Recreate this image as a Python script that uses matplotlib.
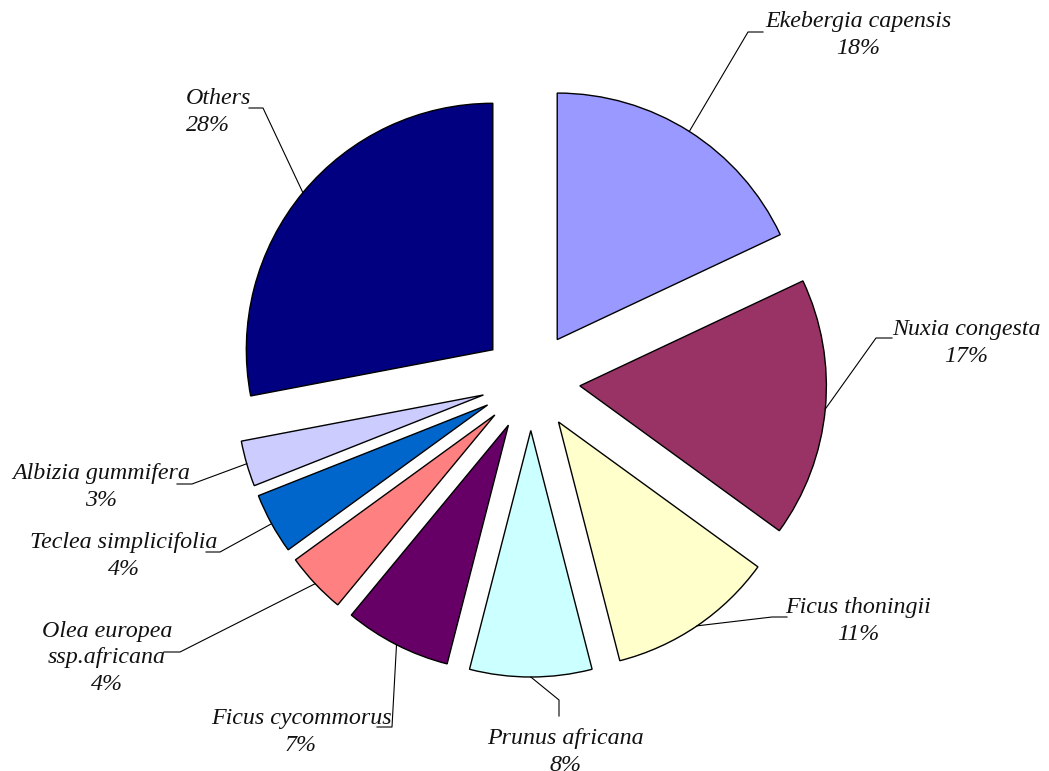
import numpy as np
import matplotlib.pyplot as plt

species = ["Ekebergia capensis", "Nuxia congesta", "Ficus thoningii",
           "Prunus africana", "Ficus cycommorus", "Olea europea\nssp.africana",
           "Teclea simplicifolia", "Albizia gummifera", "Others"]
shares = [18, 17, 11, 8, 7, 4, 4, 3, 28]
colors = ["#9999FF", "#993366", "#FFFFCC", "#CCFFFF", "#660066",
          "#FF8080", "#0066CC", "#CCCCFF", "#000080"]

W, H = 1049, 771
CX, CY, R = 530.8, 381.2, 246.5   # pie centre and radius in pixels


def px(x, y):
    # pixel position (from top-left) -> data units of the pie
    return (x - CX) / R, (CY - y) / R


# label centre, elbow of leader, end of the short horizontal tick, text alignment
label_layout = [
    ((858, 35), (748, 32), (763, 32), "center"),
    ((966, 343), (876, 338), (892, 338), "center"),
    ((858, 621), (772, 617), (787, 617), "center"),
    ((565, 752), (559, 700), (559, 716), "center"),
    ((301, 732), (392, 727), (377, 727), "center"),
    ((107, 658), (180, 652), (164, 652), "center"),
    ((124, 556), (220, 552), (206, 552), "center"),
    ((101, 487), (192, 484), (177, 484), "center"),
    ((186, 112), (263, 108), (249, 108), "left"),
]

fig = plt.figure(figsize=(W / 100, H / 100), dpi=100)
ax = fig.add_axes([0, 0, 1, 1])

wedges, _ = ax.pie(shares, explode=[0.2] * len(shares), colors=colors,
                   startangle=90, counterclock=False, radius=1.0,
                   wedgeprops=dict(edgecolor="black", linewidth=1.0))

for w, name, pct, (lpos, elbow, tick, ha) in zip(wedges, species, shares, label_layout):
    mid = np.deg2rad((w.theta1 + w.theta2) / 2)
    sx = w.center[0] + w.r * np.cos(mid)
    sy = w.center[1] + w.r * np.sin(mid)
    ex, ey = px(*elbow)
    tx, ty = px(*tick)
    ax.plot([sx, ex, tx], [sy, ey, ty], color="black", lw=0.8, zorder=3)
    lx, ly = px(*lpos)
    ax.text(lx, ly, f"{name}\n{pct}%", ha=ha, va="center", multialignment=ha,
            fontsize=17.3, style="italic", family="Liberation Serif",
            color="#111111", linespacing=1.35)

ax.set_xlim(-CX / R, (W - CX) / R)
ax.set_ylim(-(H - CY) / R, CY / R)
ax.set_aspect("auto")
ax.axis("off")

fig.savefig("out.png", dpi=100, facecolor="white")
